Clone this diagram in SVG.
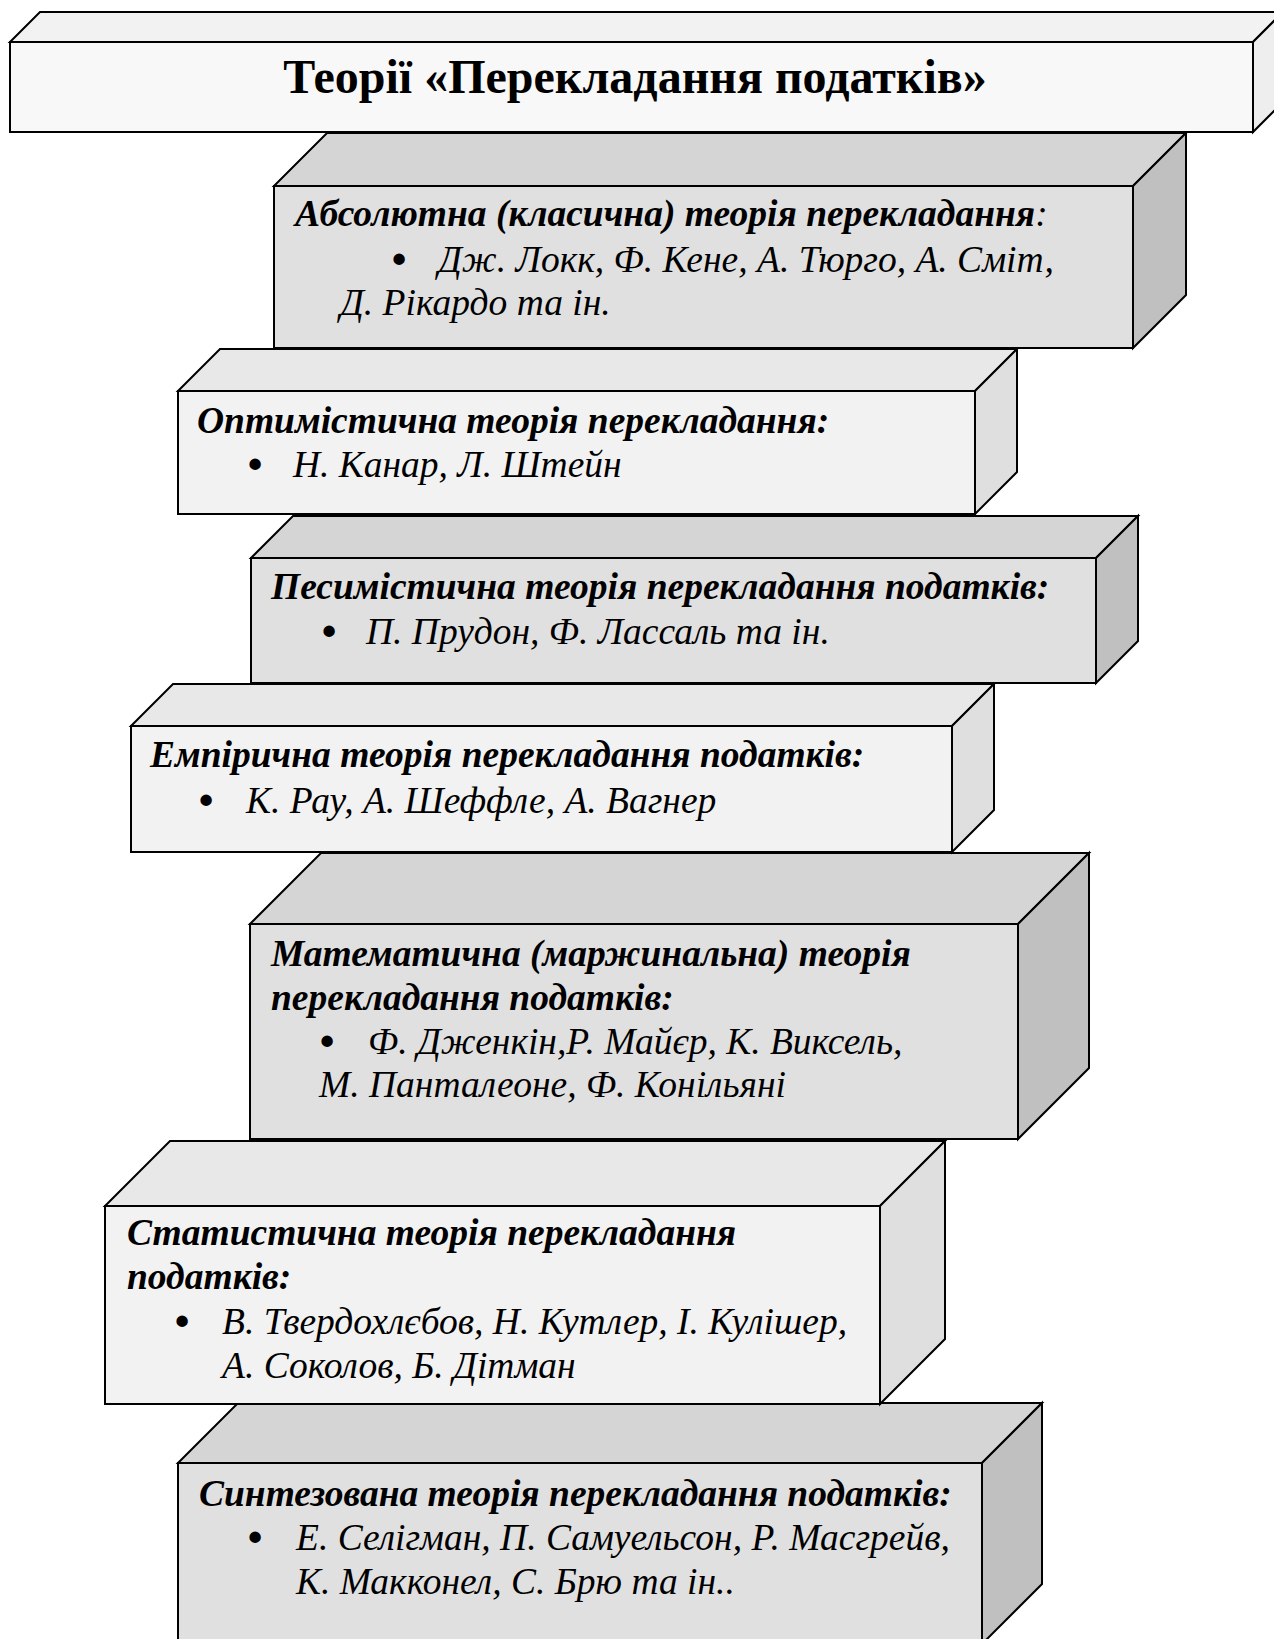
<svg xmlns="http://www.w3.org/2000/svg" width="1274" height="1639" viewBox="0 0 1274 1639">
<style>
.edge{stroke:#000;stroke-width:2;stroke-linejoin:miter}
.gf{fill:#e0e0e0}.gt{fill:#d5d5d5}.gr{fill:#c0c0c0}
.lf{fill:#f2f2f2}.lt{fill:#e8e8e8}.lr{fill:#dfdfdf}
.tf{fill:#f8f8f8}.tt{fill:#f2f2f2}.tr{fill:#eeeeee}
text{font-family:"Liberation Serif","Times New Roman",serif;fill:#000}
.title{font-size:48px;font-weight:bold}
.h{font-size:37.5px;font-weight:bold;font-style:italic}
.n{font-size:37.5px;font-style:italic}
.c{font-weight:normal}
.b{font-size:42px;font-weight:bold;text-anchor:middle}
</style>
<rect x="0" y="0" width="1274" height="1639" fill="#fff"/>
<g id="node-synthesized">
<polygon class="gt edge" points="178,1463 238,1403 1042,1403 982,1463"/>
<polygon class="gr edge" points="982,1463 1042,1403 1042,1584 982,1644"/>
<rect class="gf edge" x="178" y="1463" width="804" height="181"/>
<text class="h" x="199" y="1506">Синтезована теорія перекладання податків:</text>
<text class="b" x="255" y="1551">•</text>
<text class="n" x="296" y="1550">Е. Селігман, П. Самуельсон, Р. Масгрейв,</text>
<text class="n" x="296" y="1594">К. Макконел, С. Брю та ін..</text>
</g>
<g id="node-statistical">
<polygon class="lt edge" points="105,1206 170,1141 945,1141 880,1206"/>
<polygon class="lr edge" points="880,1206 945,1141 945,1339 880,1404"/>
<rect class="lf edge" x="105" y="1206" width="775" height="198"/>
<text class="h" x="127" y="1245">Статистична теорія перекладання</text>
<text class="h" x="127" y="1289">податків:</text>
<text class="b" x="182" y="1335">•</text>
<text class="n" x="222" y="1334">В. Твердохлєбов, Н. Кутлер, І. Кулішер,</text>
<text class="n" x="222" y="1378">А. Соколов, Б. Дітман</text>
</g>
<g id="node-mathematical">
<polygon class="gt edge" points="250,924 321,853 1089,853 1018,924"/>
<polygon class="gr edge" points="1018,924 1089,853 1089,1068 1018,1139"/>
<rect class="gf edge" x="250" y="924" width="768" height="215"/>
<text class="h" x="271" y="966">Математична (маржинальна) теорія</text>
<text class="h" x="271" y="1010">перекладання податків:</text>
<text class="b" x="327" y="1055">•</text>
<text class="n" x="368" y="1054">Ф. Дженкін,Р. Майєр, К. Виксель,</text>
<text class="n" x="319" y="1097">М. Панталеоне, Ф. Конільяні</text>
</g>
<g id="node-empirical">
<polygon class="lt edge" points="131,726 173,684 994,684 952,726"/>
<polygon class="lr edge" points="952,726 994,684 994,810 952,852"/>
<rect class="lf edge" x="131" y="726" width="821" height="126"/>
<text class="h" x="150" y="767">Емпірична теорія перекладання податків:</text>
<text class="b" x="206" y="814">•</text>
<text class="n" x="246" y="813">К. Рау, А. Шеффле, А. Вагнер</text>
</g>
<g id="node-pessimistic">
<polygon class="gt edge" points="251,558 293,516 1138,516 1096,558"/>
<polygon class="gr edge" points="1096,558 1138,516 1138,641 1096,683"/>
<rect class="gf edge" x="251" y="558" width="845" height="125"/>
<text class="h" x="271" y="599">Песимістична теорія перекладання податків:</text>
<text class="b" x="329" y="645">•</text>
<text class="n" x="366" y="644">П. Прудон, Ф. Лассаль та ін.</text>
</g>
<g id="node-optimistic">
<polygon class="lt edge" points="178,391 220,349 1017,349 975,391"/>
<polygon class="lr edge" points="975,391 1017,349 1017,472 975,514"/>
<rect class="lf edge" x="178" y="391" width="797" height="123"/>
<text class="h" x="197" y="433">Оптимістична теорія перекладання:</text>
<text class="b" x="255" y="478">•</text>
<text class="n" x="293" y="477">Н. Канар, Л. Штейн</text>
</g>
<g id="node-absolute">
<polygon class="gt edge" points="274,186 327,133 1186,133 1133,186"/>
<polygon class="gr edge" points="1133,186 1186,133 1186,295 1133,348"/>
<rect class="gf edge" x="274" y="186" width="859" height="162"/>
<text class="h" x="295" y="226">Абсолютна (класична) теорія перекладання<tspan class="c">:</tspan></text>
<text class="b" x="399" y="273">•</text>
<text class="n" x="438" y="272">Дж. Локк, Ф. Кене, А. Тюрго, А. Сміт,</text>
<text class="n" x="340" y="315">Д. Рікардо та ін.</text>
</g>
<g id="node-title">
<polygon class="tt edge" points="10,42 40,12 1283,12 1253,42"/>
<polygon class="tr edge" points="1253,42 1283,12 1283,102 1253,132"/>
<rect class="tf edge" x="10" y="42" width="1243" height="90"/>
<text class="title" x="635" y="93" text-anchor="middle">Теорії «Перекладання податків»</text>
</g>
<g id="connectors"/>
</svg>
